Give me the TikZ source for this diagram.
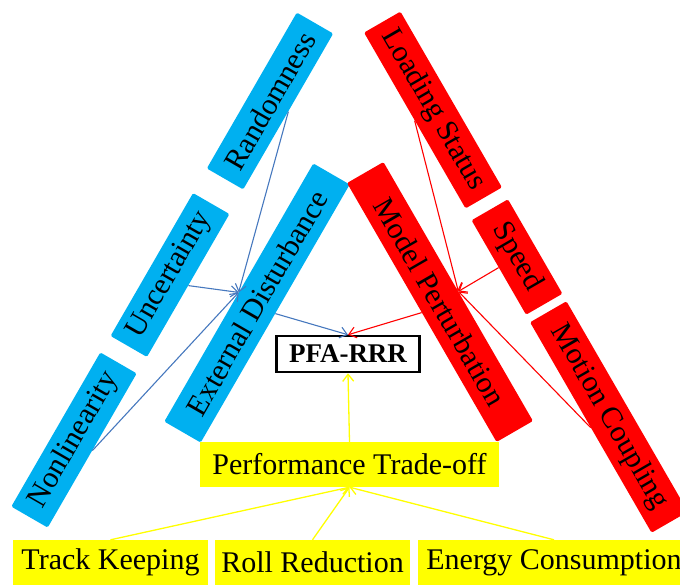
\documentclass[tikz,border=0pt]{standalone}
\usepackage{fontspec}
\setmainfont{Liberation Serif}
\usetikzlibrary{arrows.meta}
\definecolor{cyanbox}{RGB}{0,176,240}
\definecolor{redbox}{RGB}{255,0,0}
\definecolor{yellowbox}{RGB}{255,255,0}
\definecolor{bluelink}{RGB}{70,120,190}
\begin{document}
\begin{tikzpicture}[x=1pt,y=-1pt,
  lbl/.style={font=\fontsize{30}{30}\selectfont, inner sep=0pt, minimum height=42pt,
    rounded corners=1.5pt, text=black},
  bluebox/.style={lbl, fill=cyanbox, rotate=60},
  redbx/.style={lbl, fill=redbox, rotate=-60},
  yellowbx/.style={lbl, fill=yellowbox, minimum height=45pt, rounded corners=0pt},
  tip/.style={-{Straight Barb[length=7pt,width=11pt]}},
  bluearrow/.style={tip, draw=bluelink, line width=1.1pt},
  redarrow/.style={tip, draw=redbox, line width=1.1pt},
  yellowarrow/.style={tip, draw=yellowbox, line width=1.3pt},
  centerbox/.style={draw=black, line width=2.5pt, fill=white, inner sep=0pt,
    minimum width=143pt, minimum height=36pt,
    font=\fontsize{27}{27}\selectfont\bfseries}
]
\useasboundingbox (0,0) rectangle (680,584);
\clip (0,0) rectangle (680,584);

% external disturbance branch
\node[bluebox, minimum width=180pt] (rand) at (270,101) {Randomness};
\node[bluebox, minimum width=165pt] (unc) at (170,275) {Uncertainty};
\node[bluebox, minimum width=178pt] (nonl) at (74,440) {Nonlinearity};
\node[bluebox, minimum width=298pt] (ext) at (257,303) {External Disturbance};

% model perturbation branch
\node[redbx, minimum width=203pt] (load) at (433,110) {Loading Status};
\node[redbx, minimum width=109pt] (speed) at (517,257) {Speed};
\node[redbx, minimum width=243pt] (motion) at (609,417) {Motion Coupling};
\node[redbx, minimum width=299pt] (model) at (440,302) {Model Perturbation};

% central objective
\node[centerbox] (pfa) at (348,354) {PFA-RRR};

% performance branch
\node[yellowbx, minimum width=299pt] (perf) at (349.5,464.5) {Performance Trade-off};
\node[yellowbx, minimum width=195pt] (track) at (110.5,562.5) {Track Keeping};
\node[yellowbx, minimum width=195pt] (roll) at (312.5,562.5) {Roll Reduction};
\node[yellowbx, minimum width=272pt] (energy) at (554,562.5) {Energy Consumption};

% connectors
\draw[bluearrow] (rand.south) -- (ext.north);
\draw[bluearrow] (unc.south) -- (ext.north);
\draw[bluearrow] (nonl.south) -- (ext.north);
\draw[bluearrow] (ext.south) -- (pfa.north);

\draw[redarrow] (load.south) -- (model.north);
\draw[redarrow] (speed.south) -- (model.north);
\draw[redarrow] (motion.south) -- (model.north);
\draw[redarrow] (model.south) -- (pfa.north);

\draw[yellowarrow] (perf.north) -- (pfa.south);
\draw[yellowarrow] (track.north) -- (perf.south);
\draw[yellowarrow] (roll.north) -- (perf.south);
\draw[yellowarrow] (energy.north) -- (perf.south);
\end{tikzpicture}
\end{document}
